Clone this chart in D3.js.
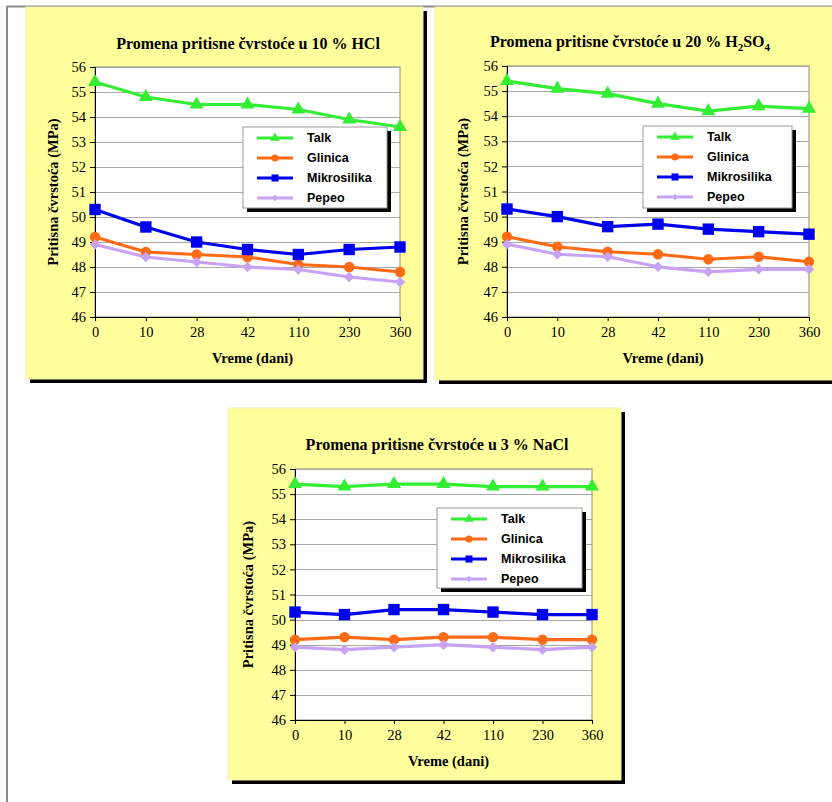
<!DOCTYPE html>
<html><head><meta charset="utf-8">
<script src="https://cdn.jsdelivr.net/npm/d3@7"></script>
<style>body{margin:0;background:#fff}svg{display:block}</style>
</head><body>
<script>
// ---- data ----
const categories = ["0","10","28","42","110","230","360"];
const seriesNames = ["Talk","Glinica","Mikrosilika","Pepeo"];
const yTicks = [46,47,48,49,50,51,52,53,54,55,56];

const hclTalk   = [55.4,54.8,54.5,54.5,54.3,53.9,53.6];
const hclGlin   = [49.2,48.6,48.5,48.4,48.1,48.0,47.8];
const hclMikro  = [50.3,49.6,49.0,48.7,48.5,48.7,48.8];
const hclPepeo  = [48.9,48.4,48.2,48.0,47.9,47.6,47.4];

const h2Talk   = [55.4,55.1,54.9,54.5,54.2,54.4,54.3];
const h2Glin   = [49.2,48.8,48.6,48.5,48.3,48.4,48.2];
const h2Mikro  = [50.3,50.0,49.6,49.7,49.5,49.4,49.3];
const h2Pepeo  = [48.9,48.5,48.4,48.0,47.8,47.9,47.9];

const naTalk   = [55.4,55.3,55.4,55.4,55.3,55.3,55.3];
const naGlin   = [49.2,49.3,49.2,49.3,49.3,49.2,49.2];
const naMikro  = [50.3,50.2,50.4,50.4,50.3,50.2,50.2];
const naPepeo  = [48.9,48.8,48.9,49.0,48.9,48.8,48.9];

const yTitle = "Pritisna čvrstoća (MPa)";
const xTitle = "Vreme (dani)";

// ---- styles ----
const colors = ["#33ee33","#ff6a14","#0000f0","#c8a2f5"];
const symbols = [d3.symbolTriangle, d3.symbolCircle, d3.symbolSquare, d3.symbolSquare];
const symSizes = [85, 85, 130, 55];
const symRot = [0,0,0,45];
const legSizes = [40, 40, 50, 22];

const W = 832, H = 802;
const svg = d3.select("body").append("svg").attr("width",W).attr("height",H);

// page frame
svg.append("line").attr("x1",7).attr("x2",W).attr("y1",6.5).attr("y2",6.5).attr("stroke","#8a8a8a").attr("stroke-width",2);
svg.append("line").attr("x1",7).attr("x2",7).attr("y1",6).attr("y2",H).attr("stroke","#8a8a8a").attr("stroke-width",2);

const panels = [
  { box:[26,7,397,372], plot:[95,67,400,317], titleX:248, titleY:49, yOff:37,
    title:[{t:"Promena pritisne čvrstoće u 10 % HCl"}],
    legend:[243,127,144,81], series:[hclTalk,hclGlin,hclMikro,hclPepeo] },
  { box:[435,7,400,373], plot:[507,66,809,317], titleX:630, titleY:47, yOff:39,
    title:[{t:"Promena pritisne čvrstoće u 20 % H"},{t:"2",sub:true},{t:"SO"},{t:"4",sub:true}],
    legend:[643,126,149,82], series:[h2Talk,h2Glin,h2Mikro,h2Pepeo] },
  { box:[228,408,393,372], plot:[295,469,592,720], titleX:437, titleY:450, yOff:42,
    title:[{t:"Promena pritisne čvrstoće u 3 % NaCl"}],
    legend:[437,508,145,80], series:[naTalk,naGlin,naMikro,naPepeo] }
];

panels.forEach(p => {
  const [bx,by,bw,bh] = p.box;
  // shadow
  svg.append("rect").attr("x",bx+4).attr("y",by+4).attr("width",bw).attr("height",bh).attr("fill","#000");
  svg.append("rect").attr("x",bx).attr("y",by).attr("width",bw).attr("height",bh).attr("fill","#ffff9c").attr("stroke","#f4f0b0").attr("stroke-width",1);

  const [x0,y0,x1,y1] = p.plot;
  const x = d3.scalePoint().domain(categories).range([x0,x1]);
  const y = d3.scaleLinear().domain([46,56]).range([y1,y0]);

  // plot area
  svg.append("rect").attr("x",x0).attr("y",y0).attr("width",x1-x0).attr("height",y1-y0)
    .attr("fill","#fff").attr("stroke","#888").attr("stroke-width",1);
  // grid
  svg.append("g").selectAll("line").data(yTicks.filter(v=>v>46)).join("line")
    .attr("x1",x0).attr("x2",x1).attr("y1",d=>Math.round(y(d))+0.5).attr("y2",d=>Math.round(y(d))+0.5)
    .attr("stroke","#a8a8a8").attr("stroke-width",1);

  // axes
  const ya = svg.append("g").attr("transform",`translate(${x0},0)`)
    .call(d3.axisLeft(y).tickValues(yTicks).tickSize(5).tickPadding(4).tickFormat(d3.format("d")));
  ya.select(".domain").attr("stroke","#000");
  ya.selectAll("text").attr("font-family","'Liberation Serif',serif").attr("font-size",14.5).attr("fill","#000");
  const xa = svg.append("g").attr("transform",`translate(0,${y1})`)
    .call(d3.axisBottom(x).tickSize(4).tickPadding(6));
  xa.select(".domain").attr("stroke","#000");
  xa.selectAll("text").attr("font-family","'Liberation Serif',serif").attr("font-size",14.5).attr("fill","#000");

  // lines & markers
  const line = d3.line().x((d,i)=>x(categories[i])).y(d=>y(d));
  p.series.forEach((vals,si) => {
    svg.append("path").attr("d",line(vals)).attr("fill","none").attr("stroke",colors[si]).attr("stroke-width",3.2).attr("stroke-linejoin","round");
  });
  p.series.forEach((vals,si) => {
    svg.append("g").selectAll("path").data(vals).join("path")
      .attr("transform",(d,i)=>`translate(${x(categories[i])},${y(d)}) rotate(${symRot[si]})`)
      .attr("d",d3.symbol().type(symbols[si]).size(symSizes[si])())
      .attr("fill",colors[si]);
  });

  // title
  const tt = svg.append("text").attr("x",p.titleX).attr("y",p.titleY).attr("text-anchor","middle")
    .attr("font-family","'Liberation Serif',serif").attr("font-weight","bold").attr("font-size",16).attr("fill","#000");
  p.title.forEach(s => {
    const ts = tt.append("tspan").text(s.t);
    if (s.sub) ts.attr("font-size",11).attr("dy",4); else if (s.t==="SO") ts.attr("dy",-4);
  });

  // axis titles
  svg.append("text").attr("transform",`translate(${x0-p.yOff},${(y0+y1)/2}) rotate(-90)`).attr("text-anchor","middle")
    .attr("font-family","'Liberation Serif',serif").attr("font-weight","bold").attr("font-size",14.5).text(yTitle);
  svg.append("text").attr("x",(x0+x1)/2 + 5).attr("y",y1+46).attr("text-anchor","middle")
    .attr("font-family","'Liberation Serif',serif").attr("font-weight","bold").attr("font-size",14.5).text(xTitle);

  // legend
  const [lx,ly,lw,lh] = p.legend;
  svg.append("rect").attr("x",lx+4).attr("y",ly+4).attr("width",lw).attr("height",lh).attr("fill","#000");
  svg.append("rect").attr("x",lx).attr("y",ly).attr("width",lw).attr("height",lh).attr("fill","#fff").attr("stroke","#999");
  seriesNames.forEach((n,si) => {
    const ry = ly + 11 + si*20;
    svg.append("line").attr("x1",lx+14).attr("x2",lx+50).attr("y1",ry).attr("y2",ry).attr("stroke",colors[si]).attr("stroke-width",3.2);
    svg.append("path").attr("transform",`translate(${lx+32},${ry}) rotate(${symRot[si]})`)
      .attr("d",d3.symbol().type(symbols[si]).size(legSizes[si])()).attr("fill",colors[si]);
    svg.append("text").attr("x",lx+64).attr("y",ry+4).attr("font-family","'Liberation Sans',Arial,sans-serif")
      .attr("font-weight","bold").attr("font-size",12.5).attr("fill","#000").text(n);
  });
});
</script>
</body></html>
